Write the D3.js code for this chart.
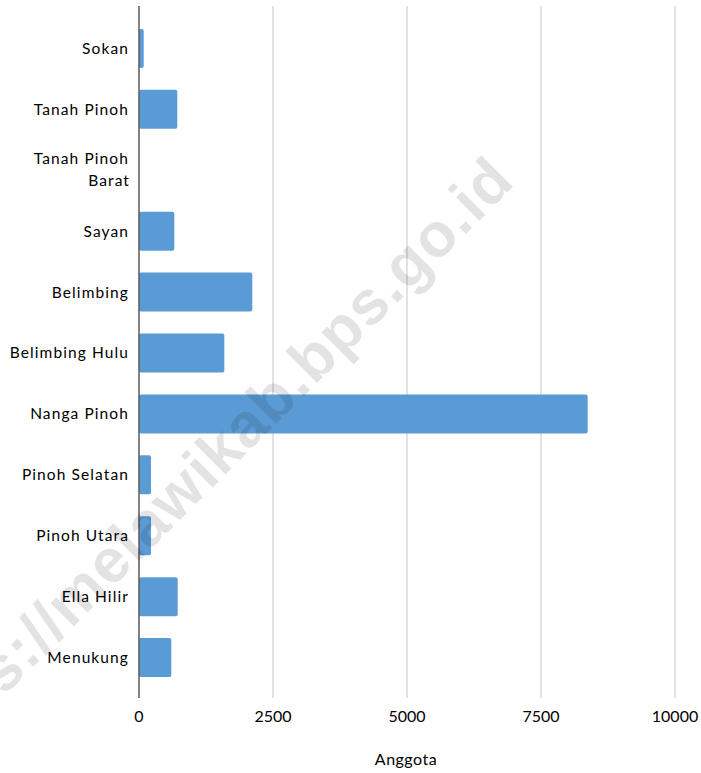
<!DOCTYPE html>
<html lang="en">
<head>
    <meta charset="UTF-8">
    <title>Anggota per Kecamatan</title>
    <script src="https://d3js.org/d3.v7.min.js"></script>
    <style>
        body {
            margin: 0;
            background: #fff;
        }
        svg {
            display: block;
        }
        .cat-label {
            font-family: Lato, "Open Sans", sans-serif;
            font-size: 15.5px;
            letter-spacing: 1.1px;
            fill: #000;
        }
        .tick-label {
            font-family: Lato, "Open Sans", sans-serif;
            font-size: 16px;
            fill: #000;
        }
        .axis-title {
            font-family: Lato, "Open Sans", sans-serif;
            font-size: 16px;
            letter-spacing: 0.5px;
            fill: #000;
        }
    </style>
</head>
<body>
    <div id="container"></div>

    <script>
        // Data
        const categories = ['Sokan', 'Tanah Pinoh', 'Tanah Pinoh Barat', 'Sayan', 'Belimbing',
            'Belimbing Hulu', 'Nanga Pinoh', 'Pinoh Selatan', 'Pinoh Utara', 'Ella Hilir', 'Menukung'];
        const members = [88, 715, 0, 659, 2114, 1592, 8371, 224, 224, 722, 603];
        const xTicks = [0, 2500, 5000, 7500, 10000];
        const axisTitle = 'Anggota';
        const watermark = 'https://melawikab.bps.go.id';

        const width = 701;
        const height = 773;

        const svg = d3.select('#container')
            .append('svg')
            .attr('width', width)
            .attr('height', height);

        const x = d3.scaleLinear()
            .domain([0, 10000])
            .range([139, 675]);

        const y = d3.scaleBand()
            .domain(categories)
            .range([18, 688])
            .paddingInner(0.36)
            .paddingOuter(0.18);

        const plotTop = 6;
        const plotBottom = 698;

        // vertical gridlines
        svg.selectAll('.grid')
            .data(xTicks.slice(1))
            .enter()
            .append('line')
            .attr('class', 'grid')
            .attr('x1', d => x(d))
            .attr('x2', d => x(d))
            .attr('y1', plotTop)
            .attr('y2', plotBottom)
            .attr('stroke', '#d9d9d9')
            .attr('stroke-width', 1.5);

        // bars
        svg.selectAll('.bar')
            .data(members)
            .enter()
            .append('rect')
            .attr('class', 'bar')
            .attr('x', x(0))
            .attr('y', (d, i) => y(categories[i]))
            .attr('width', d => x(d) - x(0))
            .attr('height', y.bandwidth())
            .attr('rx', 2)
            .attr('fill', '#5b9bd5');

        // category axis line
        svg.append('line')
            .attr('x1', x(0))
            .attr('x2', x(0))
            .attr('y1', plotTop)
            .attr('y2', plotBottom)
            .attr('stroke', '#595959')
            .attr('stroke-width', 1.5);

        // category labels (wrap the long one onto two lines)
        const labels = svg.selectAll('.cat-label')
            .data(categories)
            .enter()
            .append('text')
            .attr('class', 'cat-label')
            .attr('text-anchor', 'end')
            .attr('x', 129)
            .attr('y', d => y(d) + y.bandwidth() / 2)
            .attr('dy', '0.35em');

        labels.each(function(d) {
            const t = d3.select(this);
            if (d === 'Tanah Pinoh Barat') {
                t.append('tspan').attr('x', 129).attr('dy', '-0.38em').text('Tanah Pinoh');
                t.append('tspan').attr('x', 130).attr('dy', '1.42em').text('Barat');
            } else {
                t.text(d);
            }
        });

        // value tick labels
        svg.selectAll('.tick-label')
            .data(xTicks)
            .enter()
            .append('text')
            .attr('class', 'tick-label')
            .attr('text-anchor', 'middle')
            .attr('x', d => x(d))
            .attr('y', 722)
            .text(d => d);

        // axis title
        svg.append('text')
            .attr('class', 'axis-title')
            .attr('text-anchor', 'middle')
            .attr('x', 406)
            .attr('y', 765)
            .text(axisTitle);

        // watermark on top
        svg.append('text')
            .attr('transform', 'translate(517,183) rotate(-45)')
            .attr('text-anchor', 'end')
            .attr('font-family', '"Liberation Sans", Arial, sans-serif')
            .attr('font-weight', 700)
            .attr('font-size', 62)
            .attr('letter-spacing', 1.3)
            .attr('fill', '#000')
            .attr('fill-opacity', 0.11)
            .text(watermark);
    </script>
</body>
</html>
